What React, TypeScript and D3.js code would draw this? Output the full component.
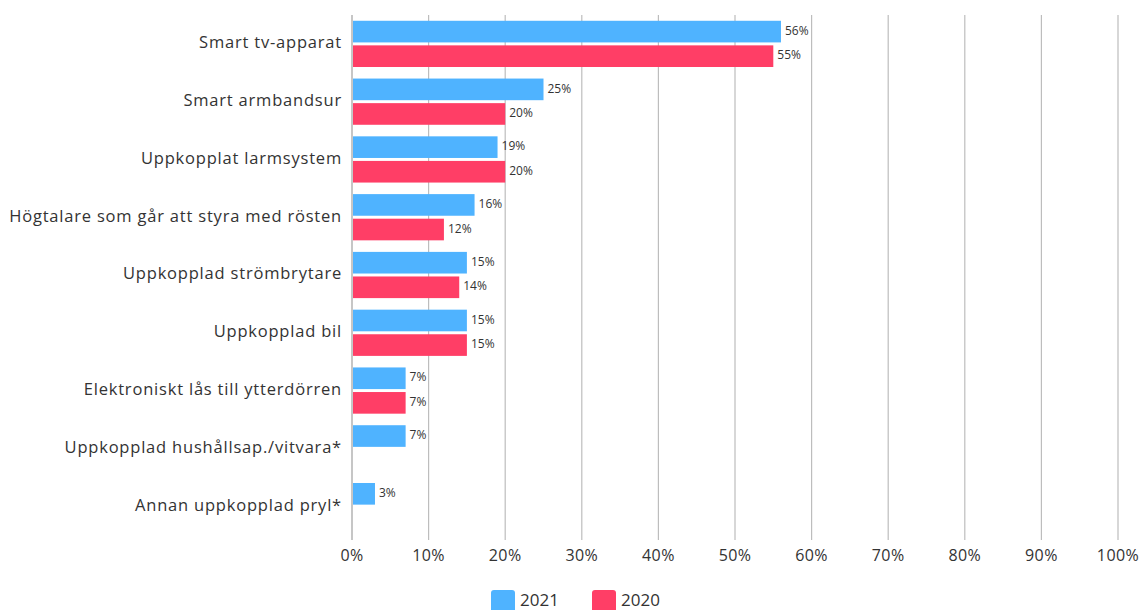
import React from "react";
import * as d3 from "d3";

const categories = [
  "Smart tv-apparat",
  "Smart armbandsur",
  "Uppkopplat larmsystem",
  "Högtalare som går att styra med rösten",
  "Uppkopplad strömbrytare",
  "Uppkopplad bil",
  "Elektroniskt lås till ytterdörren",
  "Uppkopplad hushållsap./vitvara*",
  "Annan uppkopplad pryl*",
];
const values2021 = [56, 25, 19, 16, 15, 15, 7, 7, 3];
const values2020: (number | null)[] = [55, 20, 20, 12, 14, 15, 7, null, null];
const xTicks = [0, 10, 20, 30, 40, 50, 60, 70, 80, 90, 100];
const seriesNames = ["2021", "2020"];
const colors = ["#4FB3FF", "#FF3E66"];

export default function App() {
  const W = 1141, H = 610;
  const left = 352, right = 1118, top = 15, bottom = 535;
  const x = d3.scaleLinear().domain([0, 100]).range([left, right]);
  const y = d3.scaleBand<string>().domain(categories).range([top, bottom]).paddingInner(0.2).paddingOuter(0.1);
  const sub = d3.scaleBand<string>().domain(seriesNames).range([0, y.bandwidth()]).paddingInner(0.12);
  const font = "'Open Sans', sans-serif";
  const series = [values2021, values2020];
  return (
    <svg width={W} height={H} style={{ position: "absolute", left: 0, top: 0, fontFamily: font }}>
      {xTicks.map((t) => (
        <g key={t}>
          <line x1={x(t)} x2={x(t)} y1={top} y2={bottom + 5} stroke={t === 0 ? "#a0a0a0" : "#bdbdbd"} strokeWidth={1.2} />
          <text x={x(t)} y={557} textAnchor="middle" dominantBaseline="middle" fontSize={16} letterSpacing={0.4} fill="#333">{t}%</text>
        </g>
      ))}
      {categories.map((c, i) => (
        <g key={c}>
          <text x={342} y={(y(c) as number) + y.bandwidth() / 2} textAnchor="end" dominantBaseline="middle" fontSize={16.5} letterSpacing={0.8} fill="#333">{c}</text>
          {series.map((s, k) => {
            const v = s[i];
            if (v == null) return null;
            const yy = (y(c) as number) + (sub(seriesNames[k]) as number);
            return (
              <g key={k}>
                <rect x={x(0) + 1} y={yy} width={x(v) - x(0) - 1} height={sub.bandwidth()} fill={colors[k]} />
                <text x={x(v) + 4} y={yy + sub.bandwidth() / 2} dominantBaseline="middle" fontSize={12} fill="#333">{v}%</text>
              </g>
            );
          })}
        </g>
      ))}
      {seriesNames.map((n, k) => {
        const lx = 491 + k * 101;
        return (
          <g key={n}>
            <rect x={lx} y={590} width={24} height={24} rx={3} fill={colors[k]} />
            <text x={lx + 29} y={601} dominantBaseline="middle" fontSize={17} fill="#333">{n}</text>
          </g>
        );
      })}
    </svg>
  );
}
